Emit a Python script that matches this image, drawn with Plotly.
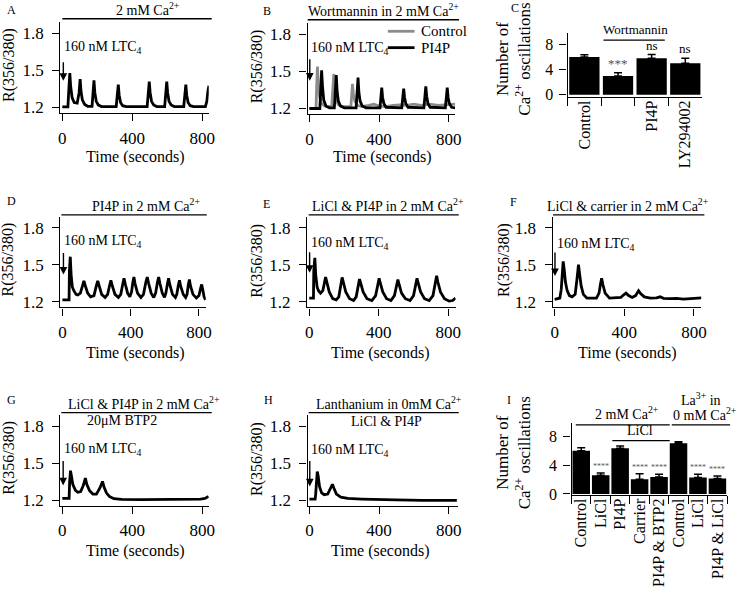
import plotly.graph_objects as go

W, H = 745, 598
FONT = "Liberation Serif"

# ---------------- data ----------------
# Panel A: 2 mM Ca2+
A_t = [0, 32, 38, 43, 48, 56, 68, 85, 96, 102, 107, 115, 128, 145, 170, 176, 181, 186, 194, 206, 225,
       308, 315, 320, 325, 333, 345, 365, 485, 492, 497, 502, 510, 522, 540, 585, 592, 597, 602, 610,
       622, 640, 694, 701, 706, 711, 719, 731, 750, 818, 826, 832, 838]
A_r = [1.205, 1.205, 1.36, 1.48, 1.37, 1.28, 1.24, 1.235, 1.32, 1.43, 1.33, 1.26, 1.225, 1.21, 1.21,
       1.32, 1.42, 1.32, 1.25, 1.22, 1.208, 1.208, 1.30, 1.385, 1.30, 1.24, 1.215, 1.208, 1.208, 1.32,
       1.41, 1.32, 1.25, 1.22, 1.208, 1.208, 1.32, 1.41, 1.32, 1.25, 1.22, 1.208, 1.208, 1.30, 1.385,
       1.30, 1.24, 1.215, 1.208, 1.208, 1.25, 1.33, 1.377]

# Panel B: Wortmannin in 2 mM Ca2+
B_ctrl_t = [0, 38, 42, 46, 51, 58, 70, 90, 128, 135, 140, 145, 153, 166, 190, 238, 243, 247, 252, 260,
            275, 300, 340, 370, 400, 440, 480, 520, 560, 600, 640, 690, 740, 790, 836]
B_ctrl_r = [1.2, 1.2, 1.40, 1.54, 1.40, 1.30, 1.24, 1.22, 1.215, 1.35, 1.48, 1.35, 1.27, 1.23, 1.215,
            1.215, 1.32, 1.40, 1.32, 1.26, 1.225, 1.215, 1.225, 1.235, 1.22, 1.215, 1.225, 1.23, 1.225,
            1.235, 1.225, 1.235, 1.225, 1.23, 1.235]
B_pi4p_t = [0, 60, 65, 70, 75, 82, 95, 115, 143, 149, 154, 159, 166, 178, 200, 268, 274, 279, 284, 291,
            303, 325, 405, 410, 415, 420, 427, 440, 530, 536, 541, 546, 553, 566, 657, 663, 668, 673,
            680, 693, 780, 786, 791, 796, 803, 816, 836]
B_pi4p_r = [1.2, 1.2, 1.36, 1.51, 1.38, 1.27, 1.22, 1.205, 1.205, 1.34, 1.47, 1.34, 1.26, 1.22, 1.205,
            1.205, 1.33, 1.45, 1.33, 1.26, 1.22, 1.205, 1.205, 1.29, 1.37, 1.29, 1.24, 1.21, 1.205, 1.29,
            1.36, 1.29, 1.24, 1.21, 1.205, 1.30, 1.38, 1.30, 1.24, 1.21, 1.205, 1.29, 1.37, 1.29, 1.24,
            1.21, 1.205]
B_names = ["Control", "PI4P"]
B_colors = ["#8c8c8c", "black"]

# Panel C: number of oscillations
C_labels = ["Control", "", "PI4P", "LY294002"]
C_means = [6.0, 3.0, 5.8, 5.0]
C_errs = [0.35, 0.5, 0.6, 0.8]
C_sig = ["", "***", "ns", "ns"]

# Panel D: PI4P in 2 mM Ca2+
D_t = [0, 39, 41, 46, 51, 58, 67, 80, 90, 105, 118, 126, 134, 148, 165, 185, 199, 207, 215, 230, 250,
       265, 276, 284, 292, 308, 328, 342, 353, 361, 369, 382, 395, 405, 413, 419, 425, 440, 460, 475,
       489, 497, 505, 520, 535, 546, 557, 564, 571, 585, 598, 606, 616, 622, 629, 645, 662, 670, 680,
       686, 692, 708, 722, 730, 738, 744, 750, 765, 785, 800, 810, 816, 822, 830, 839]
D_r = [1.215, 1.215, 1.45, 1.565, 1.42, 1.32, 1.29, 1.26, 1.255, 1.27, 1.33, 1.37, 1.33, 1.27, 1.24,
       1.25, 1.33, 1.37, 1.33, 1.26, 1.235, 1.26, 1.33, 1.374, 1.33, 1.26, 1.235, 1.26, 1.34, 1.39,
       1.34, 1.27, 1.24, 1.28, 1.36, 1.40, 1.35, 1.27, 1.235, 1.26, 1.36, 1.40, 1.35, 1.27, 1.235,
       1.27, 1.36, 1.40, 1.35, 1.27, 1.235, 1.27, 1.35, 1.39, 1.34, 1.26, 1.235, 1.26, 1.34, 1.374,
       1.33, 1.26, 1.235, 1.26, 1.34, 1.38, 1.33, 1.26, 1.23, 1.25, 1.31, 1.34, 1.30, 1.24, 1.215]

# Panel E: LiCl & PI4P in 2 mM Ca2+
E_t = [0, 24, 26, 32, 37, 45, 53, 65, 78, 88, 94, 101, 115, 135, 155, 170, 182, 189, 196, 210, 232,
       255, 270, 282, 289, 296, 310, 332, 360, 382, 395, 402, 409, 423, 445, 470, 490, 503, 510, 517,
       531, 553, 580, 600, 613, 620, 627, 641, 663, 690, 712, 726, 733, 740, 755, 778, 805, 825, 842]
E_r = [1.23, 1.23, 1.45, 1.555, 1.42, 1.32, 1.29, 1.27, 1.29, 1.37, 1.40, 1.36, 1.28, 1.225, 1.215,
       1.24, 1.35, 1.397, 1.36, 1.28, 1.225, 1.21, 1.24, 1.34, 1.384, 1.35, 1.28, 1.225, 1.21, 1.25,
       1.35, 1.39, 1.35, 1.28, 1.225, 1.21, 1.25, 1.34, 1.38, 1.34, 1.27, 1.225, 1.21, 1.25, 1.35,
       1.39, 1.35, 1.28, 1.225, 1.21, 1.25, 1.36, 1.41, 1.36, 1.28, 1.225, 1.205, 1.21, 1.23]

# Panel F: LiCl & carrier in 2 mM Ca2+
F_t = [0, 30, 38, 44, 49, 55, 62, 72, 85, 100, 118, 128, 137, 143, 152, 165, 185, 240, 255, 263, 270,
       277, 290, 315, 380, 395, 410, 425, 445, 465, 482, 495, 515, 550, 585, 606, 625, 660, 700, 740,
       780, 815, 843]
F_r = [1.22, 1.23, 1.30, 1.45, 1.527, 1.46, 1.36, 1.29, 1.25, 1.24, 1.26, 1.38, 1.50, 1.43, 1.33,
       1.26, 1.23, 1.23, 1.27, 1.34, 1.39, 1.34, 1.27, 1.23, 1.235, 1.255, 1.27, 1.25, 1.235, 1.25,
       1.29, 1.265, 1.24, 1.23, 1.232, 1.24, 1.228, 1.225, 1.228, 1.222, 1.226, 1.224, 1.232]

# Panel G: LiCl & PI4P in 2 mM Ca2+, 20 uM BTP2
G_t = [0, 39, 42, 47, 52, 60, 75, 89, 105, 120, 132, 140, 155, 175, 195, 215, 230, 238, 252, 270, 295,
       340, 450, 600, 700, 790, 815, 836]
G_r = [1.215, 1.215, 1.35, 1.44, 1.40, 1.33, 1.28, 1.265, 1.27, 1.32, 1.38, 1.33, 1.28, 1.25, 1.25,
       1.30, 1.353, 1.31, 1.26, 1.23, 1.213, 1.207, 1.205, 1.205, 1.207, 1.21, 1.215, 1.232]

# Panel H: Lanthanium in 0 mM Ca2+, LiCl & PI4P
H_t = [0, 33, 36, 40, 45, 50, 58, 70, 85, 105, 120, 132, 140, 155, 180, 220, 300, 380, 500, 650, 846]
H_r = [1.21, 1.21, 1.25, 1.38, 1.433, 1.40, 1.31, 1.26, 1.245, 1.25, 1.30, 1.33, 1.30, 1.25, 1.225,
       1.215, 1.21, 1.205, 1.203, 1.2, 1.2]

# Panel I: number of oscillations
I_labels = ["Control", "LiCl", "PI4P", "Carrier", "PI4P & BTP2", "Control", "LiCl", "PI4P & LiCl"]
I_means = [6.0, 2.6, 6.35, 2.05, 2.35, 7.05, 2.3, 2.15]
I_errs = [0.4, 0.3, 0.3, 0.75, 0.4, 0.2, 0.45, 0.35]
I_sig = ["", "****", "", "****", "****", "", "****", "****"]

TRACE_TICKS = [1.2, 1.5, 1.8]
TIME_TICKS = [0, 400, 800]
BAR_TICKS = [0, 4, 8]

# ---------------- helpers ----------------
def fx(p):
    return p / W


def fy(p):
    return 1 - p / H


fig = go.Figure()
annotations = []
shapes = []


def text(t, xpx, ypx, size, xanchor="center", yanchor="middle", angle=0, color="black"):
    annotations.append(dict(text=t, x=fx(xpx), y=fy(ypx), xref="paper", yref="paper",
                            showarrow=False, xanchor=xanchor, yanchor=yanchor, textangle=angle,
                            font=dict(family=FONT, size=size, color=color)))


def hline(x0, x1, ypx, width=1.3, color="black"):
    shapes.append(dict(type="line", xref="paper", yref="paper", x0=fx(x0), x1=fx(x1),
                       y0=fy(ypx), y1=fy(ypx), line=dict(color=color, width=width)))


axis_common = dict(showline=True, linecolor="black", linewidth=1.4, ticks="outside",
                   tickcolor="black", tickwidth=1.4, showgrid=False, zeroline=False,
                   tickfont=dict(family=FONT, size=17, color="black"))

# trace panels: (index, list of (t, r, color), xdom px, ydom px, xrange)
trace_panels = [
    (1, [(A_t, A_r, "black")], (59, 209), (22.7, 114.6), (-11, 837)),
    (2, [(B_ctrl_t, B_ctrl_r, B_colors[0]), (B_pi4p_t, B_pi4p_r, B_colors[1])],
     (309, 458), (23.7, 115.6), (-10, 836)),
    (4, [(D_t, D_r, "black")], (59, 206), (219.5, 311.5), (-12, 840)),
    (5, [(E_t, E_r, "black")], (308.5, 458.5), (219.5, 311.5), (-12, 842)),
    (6, [(F_t, F_r, "black")], (556.7, 707), (219.5, 311.5), (-11, 843)),
    (7, [(G_t, G_r, "black")], (59, 209), (420.8, 512.7), (-11, 837)),
    (8, [(H_t, H_r, "black")], (309, 461), (420.8, 512.7), (-10, 853)),
]

for idx, series, xd, yd, xr in trace_panels:
    xa = "x" if idx == 1 else f"x{idx}"
    ya = "y" if idx == 1 else f"y{idx}"
    for t, r, col in series:
        fig.add_trace(go.Scatter(x=t, y=r, mode="lines", xaxis=xa, yaxis=ya,
                                 line=dict(color=col, width=2.8), showlegend=False))
    key = "" if idx == 1 else str(idx)
    fig.layout["xaxis" + key] = dict(axis_common, domain=[fx(xd[0]), fx(xd[1])], range=list(xr),
                                     anchor=ya, tickvals=TIME_TICKS, ticklen=7,
                                     ticklabelstandoff=2)
    fig.layout["yaxis" + key] = dict(axis_common, domain=[fy(yd[1]), fy(yd[0])],
                                     range=[1.155, 1.89], anchor=xa, tickvals=TRACE_TICKS,
                                     tickformat=".1f", ticklen=7, ticklabelstandoff=5)

# bar panels
bar_panels = [
    (3, C_labels, C_means, C_errs, C_sig, (571.7, 707.7), (33, 98.3), (-0.36, 9.9),
     [15, 13, 13, 13]),
    (9, I_labels, I_means, I_errs, I_sig, (575.7, 733.3), (428.3, 501.7), (-0.14, 9.9),
     [8] * 8),
]
for idx, labels, means, errs, sig, xd, yd, yr, sig_sizes in bar_panels:
    keys = [f"k{i}" for i in range(len(labels))]
    fig.add_trace(go.Bar(x=keys, y=means, xaxis=f"x{idx}", yaxis=f"y{idx}",
                         marker=dict(color="black", line=dict(width=0)), showlegend=False,
                         error_y=dict(type="data", array=errs, arrayminus=[0] * len(errs),
                                      symmetric=False, color="black", thickness=1.5, width=4)))
    fig.layout[f"xaxis{idx}"] = dict(axis_common, domain=[fx(xd[0]), fx(xd[1])], anchor=f"y{idx}",
                                     type="category", tickmode="array", tickvals=keys,
                                     ticktext=labels, tickson="boundaries", ticklen=8,
                                     tickangle=-90, ticklabelstandoff=-4,
                                     tickfont=dict(family=FONT, size=16, color="black"))
    fig.layout[f"yaxis{idx}"] = dict(axis_common, domain=[fy(yd[1]), fy(yd[0])], range=list(yr),
                                     anchor=f"x{idx}", tickvals=BAR_TICKS, ticklen=7,
                                     ticklabelstandoff=3,
                                     tickfont=dict(family=FONT, size=16, color="black"))
    for k, m, e, s, sz in zip(keys, means, errs, sig, sig_sizes):
        if s:
            annotations.append(dict(text=s, x=k, y=m + e, xref=f"x{idx}", yref=f"y{idx}",
                                    showarrow=False, yanchor="bottom", xanchor="center",
                                    font=dict(family=FONT, size=sz,
                                              color="#555" if "*" in s else "black")))

# ---------------- texts / decorations ----------------
# panel letters
for letter, xpx, ypx in [("A", 3, 10), ("B", 262, 11), ("C", 512, 8), ("D", 3, 204), ("E", 262, 207),
                         ("F", 511, 205), ("G", 3, 405), ("H", 263, 405), ("I", 508, 405)]:
    text(letter, xpx, ypx, 12, xanchor="left")

# titles above trace panels with lines
titles = [
    ("2 mM Ca<sup>2+</sup>", 148, 19, 61, 212),
    ("Wortmannin in 2 mM Ca<sup>2+</sup>", 386, 20, 309, 462),
    ("PI4P in 2 mM Ca<sup>2+</sup>", 146, 217.7, 60, 207),
    ("LiCl &amp; PI4P in 2 mM Ca<sup>2+</sup>", 390, 217.7, 310, 461.7),
    ("LiCl &amp; carrier in 2 mM Ca<sup>2+</sup>", 633, 217.7, 557, 710),
    ("LiCl &amp; PI4P in 2 mM Ca<sup>2+</sup>", 144, 418.3, 60, 212),
    ("Lanthanium in 0mM Ca<sup>2+</sup>", 391, 418.3, 310, 461.7),
]
for t, cx, ly, x0, x1 in titles:
    text(t, cx, ly + 1, 14, yanchor="bottom")
    hline(x0, x1, ly)
text("20μM BTP2", 121.7, 426.7, 14)
text("LiCl &amp; PI4P", 389, 427.3, 14)

# legend of panel B (drawn by hand to match the compact original)
for name, col, ly in zip(B_names, B_colors, [31.7, 48.3]):
    hline(390, 417, ly, width=2.8, color=col)
    text(name, 422, ly, 15, xanchor="left")

# LTC4 labels and arrows (x: seconds, y: ratio at arrow tip, arrow length px, label y)
stim = [(1, 6, 1.416, 20, 1.683), (2, 2, 1.425, 23, 1.69), (4, 6, 1.42, 23, 1.688),
        (5, 2, 1.434, 22, 1.674), (6, 2, 1.408, 25, 1.662), (7, 5, 1.32, 26, 1.61),
        (8, 2, 1.312, 27, 1.60)]
for idx, tx, tip, ln, ly in stim:
    xr = "x" if idx == 1 else f"x{idx}"
    yr = "y" if idx == 1 else f"y{idx}"
    annotations.append(dict(text="", x=tx, y=tip, xref=xr, yref=yr, ax=0, ay=-ln, showarrow=True,
                            arrowhead=2, arrowsize=1.1, arrowwidth=1.4, arrowcolor="black"))
    annotations.append(dict(text="160 nM LTC<sub>4</sub>", x=0, y=ly, xref=xr, yref=yr,
                            showarrow=False, xanchor="left", yanchor="middle",
                            font=dict(family=FONT, size=14, color="black")))

# axis titles
for cx, cy in [(7, 66), (258, 67), (7, 263), (258, 264), (508, 264), (7, 464), (258, 465)]:
    text("R(356/380)", cx, cy, 16, angle=-90)
for cx, cy in [(135, 159), (385, 159), (135, 357.3), (383, 357.3), (632, 357.3), (135, 558.3),
               (383, 558.3)]:
    text("Time (seconds)", cx, cy, 16)
for cx, cy in [(517, 60), (517, 459)]:
    text("Number of<br>Ca<sup>2+</sup> oscillations", cx, cy, 17, angle=-90)

# bar panel group labels
text("Wortmannin", 640, 40, 13, yanchor="bottom")
hline(608, 670, 40.7)
text("2 mM Ca<sup>2+</sup>", 632, 430, 14, yanchor="bottom")
hline(580, 675, 430.7)
text("La<sup>3+</sup> in", 684, 404, 14, xanchor="left")
text("0 mM Ca<sup>2+</sup>", 745, 431, 14, xanchor="right", yanchor="bottom")
hline(677, 736, 430.7)
text("LiCl", 645, 446, 14, yanchor="bottom")
hline(617, 675, 446.7)

fig.update_layout(
    width=W, height=H, margin=dict(l=0, r=0, t=0, b=0),
    paper_bgcolor="white", plot_bgcolor="white",
    font=dict(family=FONT, size=16, color="black"),
    annotations=annotations, shapes=shapes, bargap=0.1, showlegend=False,
)

fig.write_html(
    "out.html",
    config={"displayModeBar": False},
    post_script="document.body.style.margin='0px';document.body.style.padding='0px';"
                "document.body.style.overflow='hidden';",
)
